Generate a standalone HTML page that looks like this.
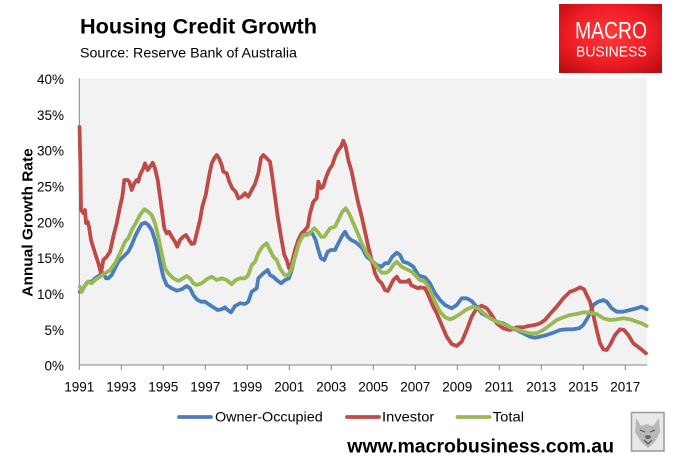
<!DOCTYPE html>
<html><head><meta charset="utf-8"><style>
html,body{margin:0;padding:0;background:#fff;}
svg{display:block;}
</style></head><body>
<svg width="687" height="471" viewBox="0 0 687 471" xmlns="http://www.w3.org/2000/svg" font-family="Liberation Sans, sans-serif">
<defs>
<radialGradient id="rg" cx="50%" cy="45%" r="70%">
<stop offset="0" stop-color="#ff3a3a"/><stop offset="0.6" stop-color="#ee1c24"/><stop offset="1" stop-color="#b80d12"/>
</radialGradient>
</defs>
<rect width="687" height="471" fill="#fff"/>
<!-- title -->
<text x="80" y="33.5" font-size="21.5" font-weight="bold" fill="#000" textLength="237" lengthAdjust="spacingAndGlyphs">Housing Credit Growth</text>
<text x="80" y="57.5" font-size="14" fill="#000" textLength="217" lengthAdjust="spacingAndGlyphs">Source: Reserve Bank of Australia</text>
<!-- logo -->
<rect x="559" y="4" width="103" height="69" fill="url(#rg)"/>
<text x="575" y="38.3" font-size="24" fill="#fff" textLength="72" lengthAdjust="spacingAndGlyphs" style="font-weight:normal">MACRO</text>
<text x="576" y="56.7" font-size="14.5" fill="#fff" textLength="70.7" lengthAdjust="spacingAndGlyphs">BUSINESS</text>
<!-- plot area -->
<rect x="79.3" y="78.3" width="567.7" height="286.7" fill="#f2f2f2"/>
<!-- axes -->
<line x1="79.3" y1="78.3" x2="79.3" y2="365" stroke="#868686" stroke-width="1"/>
<line x1="79.3" y1="365" x2="647" y2="365" stroke="#868686" stroke-width="1"/>
<g stroke="#868686" stroke-width="1">
<line x1="79.3" y1="365" x2="79.3" y2="370"/>
<line x1="121.3" y1="365" x2="121.3" y2="370"/>
<line x1="163.3" y1="365" x2="163.3" y2="370"/>
<line x1="205.3" y1="365" x2="205.3" y2="370"/>
<line x1="247.3" y1="365" x2="247.3" y2="370"/>
<line x1="289.3" y1="365" x2="289.3" y2="370"/>
<line x1="331.3" y1="365" x2="331.3" y2="370"/>
<line x1="373.3" y1="365" x2="373.3" y2="370"/>
<line x1="415.3" y1="365" x2="415.3" y2="370"/>
<line x1="457.3" y1="365" x2="457.3" y2="370"/>
<line x1="499.3" y1="365" x2="499.3" y2="370"/>
<line x1="541.3" y1="365" x2="541.3" y2="370"/>
<line x1="583.3" y1="365" x2="583.3" y2="370"/>
<line x1="625.3" y1="365" x2="625.3" y2="370"/>
</g>
<!-- y labels -->
<g font-size="13.5" fill="#000" text-anchor="end">
<text x="64" y="84">40%</text>
<text x="64" y="119.8">35%</text>
<text x="64" y="155.6">30%</text>
<text x="64" y="191.5">25%</text>
<text x="64" y="227.3">20%</text>
<text x="64" y="263.2">15%</text>
<text x="64" y="299">10%</text>
<text x="64" y="334.8">5%</text>
<text x="64" y="370.5">0%</text>
</g>
<!-- x labels -->
<g font-size="13.5" fill="#000" text-anchor="middle">
<text x="79.3" y="391.5">1991</text>
<text x="121.3" y="391.5">1993</text>
<text x="163.3" y="391.5">1995</text>
<text x="205.3" y="391.5">1997</text>
<text x="247.3" y="391.5">1999</text>
<text x="289.3" y="391.5">2001</text>
<text x="331.3" y="391.5">2003</text>
<text x="373.3" y="391.5">2005</text>
<text x="415.3" y="391.5">2007</text>
<text x="457.3" y="391.5">2009</text>
<text x="499.3" y="391.5">2011</text>
<text x="541.3" y="391.5">2013</text>
<text x="583.3" y="391.5">2015</text>
<text x="625.3" y="391.5">2017</text>
</g>
<!-- y axis title -->
<text transform="translate(32.5,296.7) rotate(-90)" font-size="14.5" font-weight="bold" fill="#000" textLength="148.4" lengthAdjust="spacingAndGlyphs">Annual Growth Rate</text>
<!-- series -->
<g fill="none" stroke-width="3.8" stroke-linejoin="round" stroke-linecap="round">
<polyline stroke="#4A7EBB" points="79.7,291.7 81.7,291.7 84.3,286.7 87.7,281.7 91.7,281.7 95,278.3 100,275 103.3,273.3 106,278.3 108.3,278.3 111.7,275 115,268.3 118.3,261.7 121.7,258.3 125,255 128.3,251.7 131.7,245 135,236.7 138.3,230 141.7,224 145,222.7 148.3,225 151.7,230 155,240 158.3,253.3 161,266.7 163.3,276.7 166.7,285 171.7,288.3 176.7,290.7 181.7,289.3 186.7,286 190,288.3 193.3,295 196.7,299.3 201,301.7 205,301.7 208.3,304 213.3,307.3 217.7,310 221.7,309.3 225,307.3 227.7,310 231,312.3 235,306 240,303.3 245,304 248.3,301.7 251.7,291.7 256.7,288.3 258.3,278.3 263.3,273.3 267.7,270 270,275 273.3,276.7 276.7,280 281,283.3 285,280 289,278.3 291.7,270 295,256.7 298.3,240 301.7,233.3 305,235 308.3,233.3 312.3,233.3 315.7,240 318.3,250 321,258.3 324.3,260 327.7,251.7 331,250 335,250 338.3,243.3 341.7,236.7 345,231.7 347.7,236.7 351,240 355,241.7 359,245 362.3,248.3 366.7,256.7 371.7,260.7 376.7,265 381.7,266.7 385,263.3 388.3,263.3 392.3,256.7 396.7,252.7 400,255 403.3,261.7 408.3,263.3 413.3,266.7 418.3,275 420,276 425,277.3 430,283.3 435,293.3 440,300 445,305 451.7,308.3 456.7,305 461.7,298.3 466.7,298.3 471.7,301 476.7,306.7 481.7,313.3 486.7,316 491.7,318.3 496.7,321.7 503.3,323.3 510,327.3 516.7,330 523.3,333.3 530,336.7 535,337.7 540,336.7 546.7,335 553.3,332.7 560,330 566.7,329.3 573.3,329.3 579.3,328.3 583.3,325 588.3,316.7 593.3,305 598.3,301.7 603.3,300 606.7,301.7 611.7,308.3 616.7,311.7 623.3,311.7 630,310 636.7,308.3 641.7,306.7 646.7,309.3"/>
<polyline stroke="#BE4B48" points="79.5,127 80.5,170 81,210 83.3,213 85,210 86,223 87.7,221.7 89,226.7 91,240 95,253 98.3,263 101,273.3 103.3,260 106.7,256.7 110,251.7 113.3,236.7 116.7,223.3 120,206.7 122.3,196.7 124.3,180 127.7,180 129.3,181.7 131.7,190 134.3,183.3 136.7,180 138.3,181.7 140,175 143.3,168.3 145,163.3 147.7,170 150,166.7 152.7,162.7 155,168.3 157.7,180 160,196.7 162.3,213.3 164.3,228.3 166.7,233.3 169,231.7 171.7,236.7 175,241.7 177.3,246.7 180,240 183.3,236.7 186,235 189,240 191.7,244 194.3,243.3 196.7,233.3 200,220 202.3,206.7 205.7,195 208.3,180 211.7,163.3 214.3,158.3 216.7,155 219,158.3 221.7,165 223.3,171.7 226.7,173.3 229.3,181.7 232.3,188.3 235.7,191.7 238.3,198.3 241.7,196.7 245,193.3 248.3,196.7 251.7,190 255,184 258.3,173.3 261,158 263.3,155 266.7,158.3 270,161.7 272.3,176.7 275,196.7 277.7,216.7 281,236.7 284.3,255 286.7,260 289,268.3 291.7,263.3 295,250 298.3,240 301.7,233.3 305,230 307.7,226.7 310,213.3 313.3,201.7 316.7,198.3 318.3,181.7 321,188.3 323.3,186.7 325.7,178.3 329,170 332.3,165 335,156.7 338.3,150 341,146.7 343.3,140.7 345.7,146.7 348.3,160 351.7,171.7 355,188.3 358.3,203.3 361.7,216.7 365,231.7 368.3,246.7 371.7,260 375,273.3 378.3,280 381.7,283.3 385,290 387.7,291 390,286.7 393.3,280 396.7,276.7 400,281.7 403.3,281.7 406.7,281.7 409,280 411,285 414.3,286.7 418.3,288.3 420,287.3 425,288.3 428.3,295 433.3,306.7 436.7,313.3 441.7,325 446.7,336.7 451.7,344 456.7,346 461.7,341.7 466.7,330 471.7,316.7 476.7,308.3 481.7,305.7 486.7,308.3 491.7,315 496.7,323.3 503.3,328.3 510,330 516.7,327.3 523.3,327.3 528.3,326 535,325 540,323.3 545,320 550,314 556.7,306.7 563.3,298.3 570,291.7 575,290 580,287.3 584,289.3 586.7,295 590,301.7 593.3,315 596.7,330 600,343.3 603.3,349.3 606.7,350 610,345 615,335 620,329.3 624,330 628.3,335 633.3,343.3 640,348.3 646,353.3"/>
<polyline stroke="#98B954" points="79.7,286.7 81.7,291.7 84.3,286.7 87.7,281.7 91.7,283.3 95,280 100,276.7 105,273.3 110,270 115,263.3 120,253.3 125,241.7 128.3,238.3 131.7,230 135.7,223.3 140,215 144.3,209.3 148.3,211.7 151.7,215 155,223.3 158.3,236.7 161.7,253.3 165,268.3 168.3,273.3 173.3,278.3 178.3,281 183.3,278.3 186.7,276 190,278.3 193.3,283.3 196.7,285 201.7,283.3 206.7,279.3 211.7,276.7 216.7,280 221.7,278.3 226.7,280 231.7,284.3 235.7,280 240,278.3 245,278.3 248.3,275 251.7,265 255,262 258.3,253.3 262.3,246.7 266.7,243.3 270,250 273.3,256.7 276.7,260 280,268.3 284.3,275 288.3,275 291.7,268.3 295,256.7 299,243.3 303.3,235 307.7,235 311,231.7 314.3,228.3 317.7,231.7 321,236.7 324.3,236.7 327.7,231.7 330,228.3 335,226.7 338.3,220 342.3,211.7 345.7,208.3 349,213.3 353.3,223.3 357.7,233.3 361.7,243.3 366.7,253.3 371.7,260 376.7,266.7 381.7,272.7 386.7,272.7 390,270 393.3,265 396.7,261.7 401.7,266.7 406.7,269.3 411.7,271.7 416.7,276.7 420,280 425,281.7 430,290 435,301.7 440,311.7 445,317.3 450,319.3 455,317.3 460,314 466.7,309.3 473.3,306.7 478.3,308.3 483.3,312.7 490,318.3 496.7,321.7 503.3,324 510,327.3 516.7,329.3 523.3,331.7 530,333.3 536.7,333.3 543.3,330 550,325 556.7,320 563.3,317.3 570,315 576.7,314 583.3,312.3 590,312.7 596.7,314 603.3,318.3 610,320 616.7,319.3 623.3,318.3 630,319.3 636.7,321.7 641.7,323.3 646.7,326"/>
</g>
<!-- legend -->
<g stroke-width="3.8" stroke-linecap="round">
<line x1="179" y1="417" x2="211" y2="417" stroke="#4A7EBB"/>
<line x1="347" y1="417" x2="379" y2="417" stroke="#BE4B48"/>
<line x1="457.5" y1="417" x2="489.5" y2="417" stroke="#98B954"/>
</g>
<g font-size="14" fill="#000">
<text x="215" y="421.5" textLength="107.7" lengthAdjust="spacingAndGlyphs">Owner-Occupied</text>
<text x="382" y="421.5" textLength="52.3" lengthAdjust="spacingAndGlyphs">Investor</text>
<text x="492.7" y="421.5" textLength="31.3" lengthAdjust="spacingAndGlyphs">Total</text>
</g>
<!-- url -->
<text x="347.3" y="452.5" font-size="19" font-weight="bold" fill="#000" textLength="266.7" lengthAdjust="spacingAndGlyphs">www.macrobusiness.com.au</text>
<!-- wolf icon -->
<rect x="631.5" y="412.5" width="32.5" height="38.5" fill="#e8e8e8" stroke="#9a9a9a" stroke-width="1.5"/>
<path d="M636,418 L641,426 L647,424 L653,426 L659,418 L660,432 L655,442 L648,448 L641,442 L635,432 Z" fill="#b8b8b8"/>
<path d="M640,430 L645,432 M650,432 L655,430 M644,440 L648,444 L652,440" stroke="#555" stroke-width="1.2" fill="none"/>
<ellipse cx="648" cy="437" rx="3" ry="2" fill="#666"/>
</svg>
</body></html>
